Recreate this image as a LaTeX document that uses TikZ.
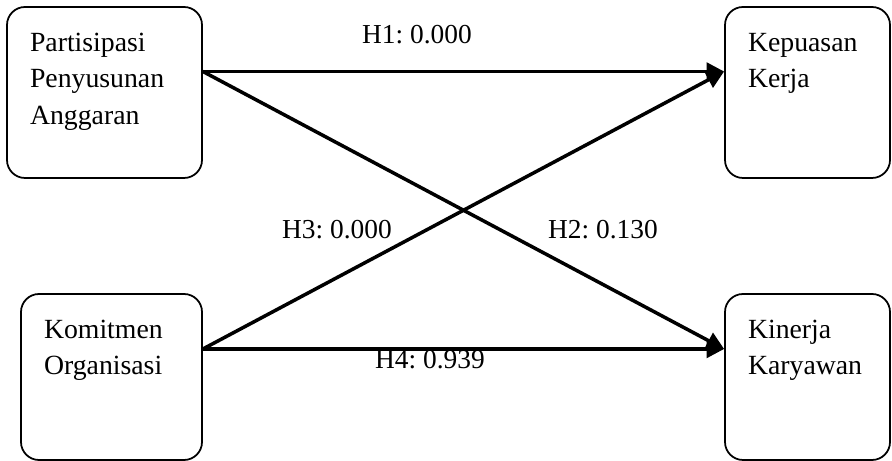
\documentclass[tikz,border=0pt]{standalone}
\usepackage{fontspec}
\setmainfont{Liberation Serif}
\usetikzlibrary{arrows.meta}
\frenchspacing
\tikzset{
  varnode/.style={draw=black,line width=1pt,rounded corners=3.6mm,inner xsep=4.6mm,inner ysep=5.2mm,font=\fontsize{15.8}{20.8}\selectfont},
  hypedge/.style={-{Triangle[length=10pt,width=10pt]},line width=2pt,black},
  hyplabel/.style={inner sep=0pt,font=\fontsize{15.6}{18}\selectfont},
}

\begin{document}
\begin{tikzpicture}
  \useasboundingbox (0,0) rectangle (17.84,9.22);
  \node[varnode] (nPPA) at (2.09,7.37) {\parbox[c][2.38cm][t]{2.98cm}{Partisipasi\\Penyusunan\\Anggaran}};
  \node[varnode] (nKO) at (2.23,1.68) {\parbox[c][2.28cm][t]{2.70cm}{Komitmen\\Organisasi}};
  \node[varnode] (nKK) at (16.15,7.37) {\parbox[c][2.38cm][t]{2.38cm}{Kepuasan\\Kerja}};
  \node[varnode] (nKinerja) at (16.15,1.68) {\parbox[c][2.28cm][t]{2.38cm}{Kinerja\\Karyawan}};
  \draw[hypedge] ([yshift=4.2mm]nPPA.east) -- ([yshift=4.2mm]nKK.west);
  \draw[hypedge] ([yshift=4.2mm]nPPA.east) -- ([yshift=5.6mm]nKinerja.west);
  \draw[hypedge] ([yshift=5.6mm]nKO.east) -- ([yshift=4.2mm]nKK.west);
  \draw[hypedge] ([yshift=5.6mm]nKO.east) -- ([yshift=5.6mm]nKinerja.west);
  \node[hyplabel] (lH1) at (8.34,8.52) {H1: 0.000};
  \node[hyplabel] (lH2) at (12.06,4.63) {H2: 0.130};
  \node[hyplabel] (lH3) at (6.74,4.63) {H3: 0.000};
  \node[hyplabel] (lH4) at (8.60,2.02) {H4: 0.939};
\end{tikzpicture}
\end{document}
